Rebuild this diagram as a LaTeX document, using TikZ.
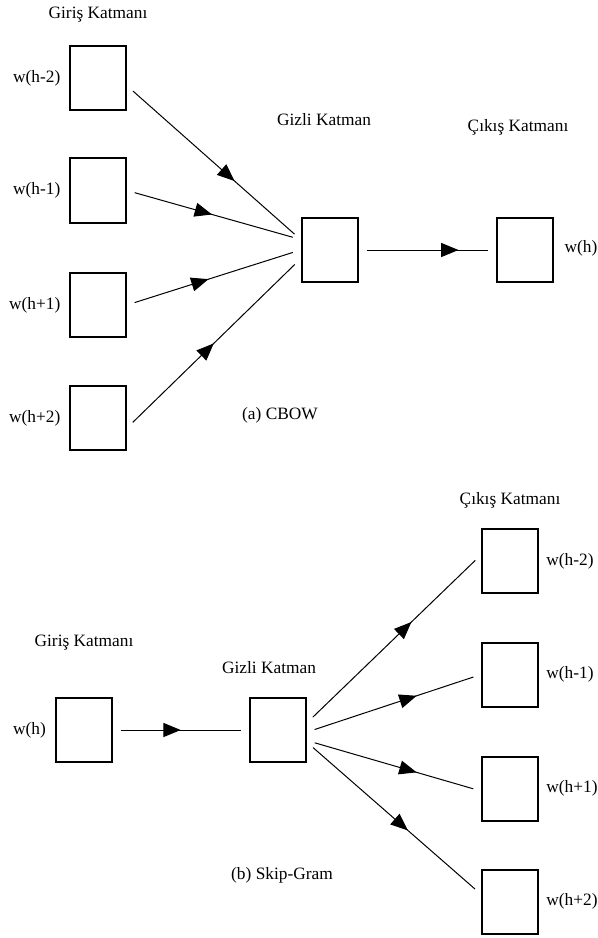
\documentclass[tikz,border=0pt]{standalone}
\usepackage{fontspec}
\setmainfont{Liberation Serif}
\usetikzlibrary{positioning,decorations.markings,arrows.meta}
\begin{document}
\begin{tikzpicture}[x=0.75pt,y=-0.75pt,font=\fontsize{13}{15}\selectfont,
box/.style={draw,line width=1.5pt,minimum width=42pt,minimum height=48pt,inner sep=0pt},
conn/.style={line width=0.75pt,shorten <=6pt,shorten >=6pt,postaction={decorate},
decoration={markings,mark=at position #1 with {\arrow{Triangle[length=13pt,width=10.5pt]}}}}]
\useasboundingbox (0,0) rectangle (598,938);
\node (tGiris) at (98,15) {Giriş Katmanı};
\node (tGizli) at (324,120) {Gizli Katman};
\node (tCikis) at (518,127) {Çıkış Katmanı};
\node [box] (A1) at (98,78) {};
\node [box] (A2) at (98,190.5) {};
\node [box] (A3) at (98,305) {};
\node [box] (A4) at (98,418) {};
\node [left=3pt of A1] (lA1) {w(h-2)};
\node [left=3pt of A2] (lA2) {w(h-1)};
\node [left=3pt of A3] (lA3) {w(h+1)};
\node [left=3pt of A4] (lA4) {w(h+2)};
\node [box] (H) at (329.5,250) {};
\node [box] (O) at (524.5,250) {};
\node [anchor=west,inner xsep=1pt] (lO) at (563,248) {w(h)};
\node (tCBOW) at (280,415) {(a) CBOW};
\draw [conn=0.62] (A1.-15) -- (H.160);
\draw [conn=0.49] (A2.east) -- (H.160);
\draw [conn=0.47] (A3.east) -- (H.west);
\draw [conn=0.5] (A4.-19) -- (H.-163);
\draw [conn=0.73] (H) -- (O);
\node (bGiris) at (84,643) {Giriş Katmanı};
\node (bGizli) at (269,668) {Gizli Katman};
\node (bCikis) at (510,500) {Çıkış Katmanı};
\node [box] (I) at (83.5,730) {};
\node [left=3pt of I] (lI) {w(h)};
\node [box] (G) at (278,730) {};
\node [box] (B1) at (510,561) {};
\node [box] (B2) at (510,674.5) {};
\node [box] (B3) at (510,788.5) {};
\node [box] (B4) at (510,901.5) {};
\node [right=2pt of B1] (lB1) {w(h-2)};
\node [right=2pt of B2] (lB2) {w(h-1)};
\node [right=2pt of B3] (lB3) {w(h+1)};
\node [right=2pt of B4] (lB4) {w(h+2)};
\node (tSkip) at (282,875) {(b) Skip-Gram};
\draw [conn=0.5] (I) -- (G);
\draw [conn=0.6] (G.14) -- (B1.168);
\draw [conn=0.63] (G.-4) -- (B2.west);
\draw [conn=0.63] (G.-20) -- (B3.185);
\draw [conn=0.58] (G.-23) -- (B4.166);
\end{tikzpicture}
\end{document}
